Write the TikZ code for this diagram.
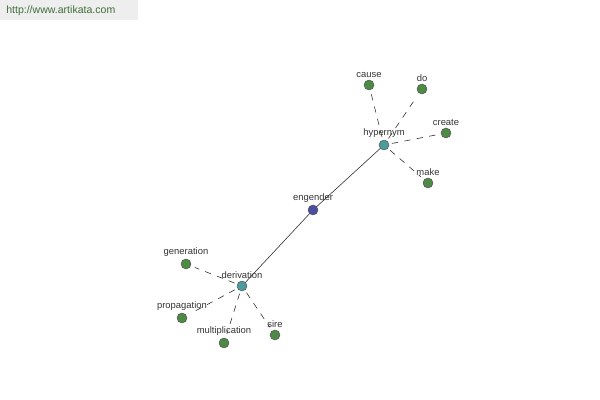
\documentclass[tikz,border=0pt]{standalone}
\usepackage{fontspec}
\setmainfont{Liberation Sans}
\usetikzlibrary{positioning}
\definecolor{hoja}{HTML}{4E8A46}
\definecolor{enlace}{HTML}{4F9A9C}
\definecolor{centro}{HTML}{4A4FA0}
\definecolor{cabecera}{HTML}{EEEEEE}
\definecolor{url}{HTML}{3F6E3A}

\begin{document}
\begin{tikzpicture}[x=0.025cm, y=-0.025cm,
  punto/.style={circle, draw=black!70, line width=0.3pt, inner sep=0pt,
    minimum size=0.25cm},
  etiqueta/.style={font=\fontsize{6.7}{7}\selectfont, text=black!80,
    inner sep=0pt},
  enlaceFuerte/.style={line width=0.4pt, black!85},
  enlaceDebil/.style={dashed, dash pattern=on 4.5pt off 4.5pt,
    line width=0.4pt, black!85, shorten >=3pt, shorten <=2pt}
]
\useasboundingbox (0,0) rectangle (600,400);
\fill[cabecera] (0,0) rectangle (138,20);
\node[font=\fontsize{7.5}{9}\selectfont, text=url, anchor=west, inner sep=0pt]
  (sitio) at (6,11) {http://www.artikata.com};

% nodos
\node[punto, fill=centro] (engender) at (313,210) {};
\node[punto, fill=enlace] (hypernym) at (384,145) {};
\node[punto, fill=enlace] (derivation) at (242,286) {};
\node[punto, fill=hoja] (cause) at (369,85) {};
\node[punto, fill=hoja] (do) at (422,89) {};
\node[punto, fill=hoja] (create) at (446,133) {};
\node[punto, fill=hoja] (make) at (428,183) {};
\node[punto, fill=hoja] (generation) at (186,264) {};
\node[punto, fill=hoja] (propagation) at (182,318) {};
\node[punto, fill=hoja] (multiplication) at (224,343) {};
\node[punto, fill=hoja] (sire) at (275,335) {};

% etiquetas
\foreach \n in {engender,hypernym,derivation,cause,do,create,make,
  generation,propagation,multiplication,sire}
  \node[etiqueta, above=0.04cm of \n] (t-\n) {\n};

% enlaces
\draw[enlaceFuerte] (engender) -- (hypernym);
\draw[enlaceFuerte] (engender) -- (derivation);
\foreach \n in {cause,do,create,make}
  \draw[enlaceDebil] (hypernym) -- (\n);
\foreach \n in {generation,propagation,multiplication,sire}
  \draw[enlaceDebil] (derivation) -- (\n);
\end{tikzpicture}
\end{document}
